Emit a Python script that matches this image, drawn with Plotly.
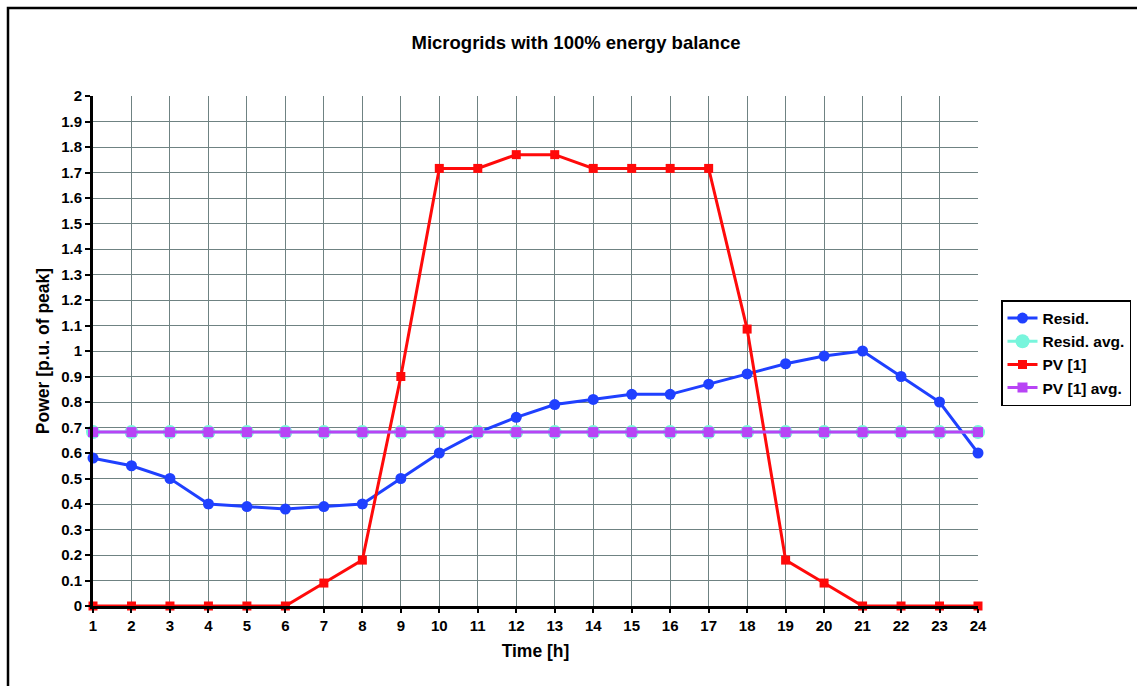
import plotly.graph_objects as go

# Hourly profiles, p.u. of peak
hours = list(range(1, 25))
resid = [0.58, 0.55, 0.50, 0.40, 0.39, 0.38, 0.39, 0.40, 0.50, 0.60, 0.68, 0.74,
         0.79, 0.81, 0.83, 0.83, 0.87, 0.91, 0.95, 0.98, 1.00, 0.90, 0.80, 0.60]
pv = [0, 0, 0, 0, 0, 0, 0.09, 0.18, 0.90, 1.716, 1.716, 1.77,
      1.77, 1.716, 1.716, 1.716, 1.716, 1.086, 0.18, 0.09, 0, 0, 0, 0]
resid_avg = [0.682] * 24
pv_avg = [0.682] * 24

y_ticks = [round(i * 0.1, 1) for i in range(21)]
y_labels = ["0", "0.1", "0.2", "0.3", "0.4", "0.5", "0.6", "0.7", "0.8", "0.9", "1",
            "1.1", "1.2", "1.3", "1.4", "1.5", "1.6", "1.7", "1.8", "1.9", "2"]

FONT = "Liberation Sans, Arial, sans-serif"
GRID = "#6f8282"

fig = go.Figure()
fig.add_trace(go.Scatter(x=hours, y=resid, name="<b>Resid.</b>", mode="lines+markers",
                         line=dict(color="#1f40ff", width=3),
                         marker=dict(symbol="circle", size=11, color="#1f40ff"),
                         cliponaxis=False))
fig.add_trace(go.Scatter(x=hours, y=resid_avg, name="<b>Resid. avg.</b>", mode="lines+markers",
                         line=dict(color="#78f5dc", width=3),
                         marker=dict(symbol="circle", size=14, color="#78f5dc"),
                         cliponaxis=False))
fig.add_trace(go.Scatter(x=hours, y=pv, name="<b>PV [1]</b>", mode="lines+markers",
                         line=dict(color="#ff0a0a", width=3),
                         marker=dict(symbol="square", size=9, color="#ff0a0a"),
                         cliponaxis=False))
fig.add_trace(go.Scatter(x=hours, y=pv_avg, name="<b>PV [1] avg.</b>", mode="lines+markers",
                         line=dict(color="#b844f5", width=3),
                         marker=dict(symbol="square", size=10, color="#b844f5"),
                         cliponaxis=False))

L, R, T, B = 93, 159, 96, 80
W, H = 1137, 686
pw, ph = W - L - R, H - T - B

fig.update_layout(
    width=W, height=H,
    margin=dict(l=L, r=R, t=T, b=B, autoexpand=False),
    paper_bgcolor="white", plot_bgcolor="white",
    font=dict(family=FONT, size=15, color="black"),
    showlegend=True,
    legend=dict(x=(1001 - L) / pw, y=1 - (300 - T) / ph, xanchor="left", yanchor="top",
                bordercolor="black", borderwidth=1.5, bgcolor="white",
                font=dict(family=FONT, size=15.5, color="black"),
                itemwidth=30, tracegroupgap=0),
    xaxis=dict(range=[1, 24], tickmode="array", tickvals=hours,
               ticktext=[f"<b>{h}</b>" for h in hours],
               showgrid=True, gridcolor=GRID, gridwidth=1,
               showline=True, linecolor="black", linewidth=3,
               ticks="outside", ticklen=4, tickcolor="black", tickwidth=2,
               zeroline=False,
               title=dict(text="<b>Time [h]</b>", font=dict(size=17.5), standoff=12)),
    yaxis=dict(range=[0, 2], tickmode="array", tickvals=y_ticks,
               ticktext=[f"<b>{t}</b>" for t in y_labels],
               showgrid=True, gridcolor=GRID, gridwidth=1,
               showline=True, linecolor="black", linewidth=3,
               ticks="outside", ticklen=5, tickcolor="black", tickwidth=2,
               zeroline=False,
               title=dict(text="<b>Power [p.u. of peak]</b>", font=dict(size=17.5), standoff=8)),
    title=dict(text="<b>Microgrids with 100% energy balance</b>",
               x=576 / W, xanchor="center", y=1 - 43 / H, yanchor="middle",
               font=dict(family=FONT, size=18.5, color="black")),
)

# outer chart frame
fig.add_shape(type="rect", xref="paper", yref="paper",
              x0=(8 - L) / pw, y0=-0.5, x1=1.5, y1=1 + (T - 8) / ph,
              line=dict(color="black", width=2.5), fillcolor="rgba(0,0,0,0)", layer="below")

fig.write_html("out.html")
